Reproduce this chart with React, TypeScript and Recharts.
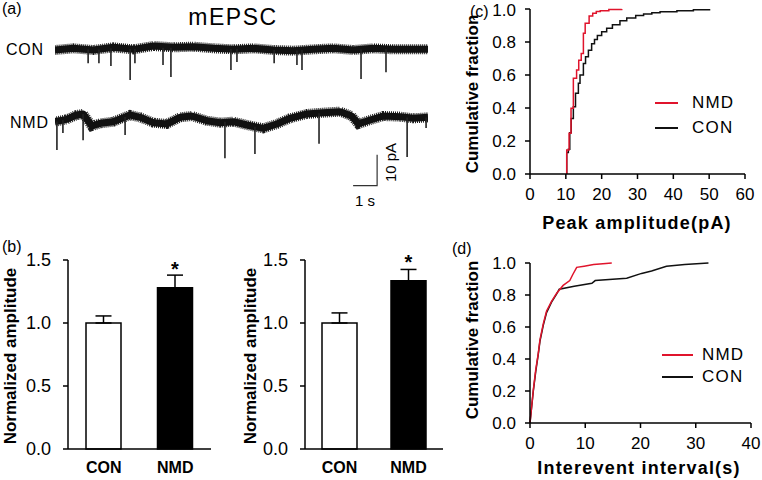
import React from 'react'
import {
    LineChart,
    Line,
    XAxis,
    YAxis,
    BarChart,
    Bar,
    Cell,
    ErrorBar,
    LabelList,
    Legend
} from 'recharts'

const FONT = '"Liberation Sans", Arial, Helvetica, sans-serif'
const RED = '#e0142c'
const INK = '#111'

// (a) example traces: baseline wander (s, pA) and individual events (s, peak pA)
const conBaseT = [0, 0.77, 1.6, 2.43, 3.27, 4.1, 4.93, 5.77, 6.6, 7.43, 8.27, 9.1, 9.93, 10.77, 11.6, 12.43, 13.27, 14.1, 15.54]
const conBaseV = [-0.16, 0.38, -0.16, 0.7, 0.05, 1.13, 0.7, 0.92, 0.38, 0.05, 0.38, -0.16, -0.38, 0.05, 0.38, -0.16, 0.38, 0.05, 0.05]
const conEventT = [1.38, 1.83, 2.33, 3.13, 3.33, 4.5, 4.83, 7.33, 7.58, 9.13, 10.08, 10.29, 12.75, 13.79]
const conEventFrom = [0, 0, 0.4, 0.2, 0.2, 0.6, 0.6, 0.2, 0.2, -0.2, -0.3, -0.2, 0, 0.2]
const conEventPeak = [-4.4, -4.4, -5.3, -9.8, -4.4, -5.0, -8.9, -6.6, -4.0, -4.4, -5.0, -6.6, -9.5, -7.3]

const nmdBaseT = [0, 0.49, 0.9, 1.18, 1.53, 1.88, 2.43, 3.13, 3.54, 4.1, 4.65, 5.21, 5.7, 6.32, 6.88, 7.43, 7.99, 8.68, 9.24, 9.79, 10.49, 11.18, 11.88, 12.36, 12.64, 13.13, 13.68, 14.38, 14.93, 15.54]
const nmdBaseV = [-0.54, 0.22, 1.61, 1.94, -1.94, -1.08, -0.54, 1.61, 0.86, -0.86, -1.29, 0.86, 1.29, -0.22, -0.86, -0.54, -1.61, -2.69, -1.29, 0.54, 1.94, 2.37, 2.69, 1.29, -1.29, 0, 1.29, 1.08, 0.54, 0.86]
const nmdEventT = [0.08, 0.33, 1.17, 2.92, 7.08, 8.33, 11.0, 14.67, 15.46]
const nmdEventFrom = [-0.5, 0, 1.9, 1, -0.6, -2.2, 2.2, 0.8, 0.8]
const nmdEventPeak = [-9.7, -4.2, -6.5, -4.8, -12.3, -11.0, -7.7, -11.9, -2.6]

// scale bar: 1 s, 10 pA
const scaleT = [12.42, 13.42, 13.42]
const scaleV = [-21.2, -21.2, -11.2]

// (b) normalized amplitude
const groups = ['CON', 'NMD']
const leftMean = [1.0, 1.28]
const leftSem = [0.056, 0.1]
const rightMean = [1.0, 1.335]
const rightSem = [0.08, 0.09]
const sigMarks = ['', '*']

// (c) cumulative peak amplitude (pA)
const nmdAmpX = [10.25, 10.25, 10.9, 11.45, 12.1, 13.0, 13.6, 14.3, 14.9, 15.4, 16.5, 17.5, 18.5, 19.6, 22.0, 25.6]
const nmdAmpY = [0, 0.145, 0.247, 0.398, 0.58, 0.63, 0.69, 0.73, 0.853, 0.913, 0.958, 0.975, 0.985, 0.99, 0.997, 1.0]
const conAmpX = [10.25, 10.25, 10.7, 11.1, 11.5, 12.1, 12.7, 13.5, 13.96, 14.9, 15.5, 16.3, 17.2, 18.0, 18.8, 20.0, 21.4, 23.0, 25.1, 27.0, 29.5, 31.7, 34.0, 36.3, 41.0, 45.6, 50.1]
const conAmpY = [0, 0.13, 0.15, 0.25, 0.337, 0.408, 0.489, 0.55, 0.6, 0.67, 0.71, 0.75, 0.79, 0.815, 0.84, 0.862, 0.883, 0.905, 0.929, 0.945, 0.96, 0.97, 0.978, 0.984, 0.99, 0.996, 1.0]

// (d) cumulative interevent interval (s)
const nmdIntX = [0, 0.6, 1.03, 1.5, 1.8, 2.4, 3.0, 3.9, 4.8, 6.0, 7.2, 7.7, 8.45, 9.8, 11.5, 13.2, 14.8]
const nmdIntY = [0, 0.206, 0.33, 0.435, 0.52, 0.62, 0.7, 0.76, 0.81, 0.86, 0.89, 0.925, 0.973, 0.98, 0.99, 0.995, 1.0]
const conIntX = [0, 0.6, 1.03, 1.5, 1.8, 2.4, 3.0, 3.9, 4.8, 5.3, 8.0, 11.2, 11.8, 17.5, 20.2, 22.0, 24.7, 28.0, 32.3]
const conIntY = [0, 0.2, 0.32, 0.43, 0.51, 0.61, 0.69, 0.755, 0.805, 0.836, 0.855, 0.873, 0.89, 0.905, 0.935, 0.95, 0.98, 0.99, 1.0]

const pairs = (xs: number[], ys: number[]) => xs.map((x, i) => ({ x, y: ys[i] }))
const traceBase = (ts: number[], vs: number[]) => ts.map((t, i) => ({ t, v: vs[i] }))
const traceEvents = (ts: number[], from: number[], peak: number[]) =>
    ts.flatMap((t, i) => [{ t, v: from[i] }, { t, v: peak[i] }, { t, v: null }])

const axisStroke = { stroke: '#000', strokeWidth: 1.5 }

const VLabel = ({ x, y, text }: { x: number; y: number; text: string }) => (
    <text
        x={x}
        y={y}
        transform={`rotate(-90 ${x} ${y})`}
        textAnchor="middle"
        fontFamily={FONT}
        fontWeight="bold"
        fontSize={17}
        fill="#000"
    >
        {text}
    </text>
)

const HLabel = ({ x, y, text }: { x: number; y: number; text: string }) => (
    <text x={x} y={y} textAnchor="middle" fontFamily={FONT} fontWeight="bold" fontSize={18} letterSpacing={1.2} fill="#000">
        {text}
    </text>
)

const CdfLegend = ({ payload, lineW, gap, rowH }: any) => {
    const items = [...(payload || [])].reverse()
    return (
        <div>
            {items.map((p: any) => (
                <div key={p.value} style={{ display: 'flex', alignItems: 'center', height: rowH }}>
                    <span style={{ width: lineW, borderTop: `2px solid ${p.color}`, marginRight: gap }} />
                    <span style={{ fontFamily: FONT, fontSize: 17, letterSpacing: 1.2, color: '#000' }}>{p.value}</span>
                </div>
            ))}
        </div>
    )
}

const Star = (props: any) => {
    const { x, y, width, value } = props
    if (!value) return null
    return (
        <text x={Number(x) + Number(width) / 2} y={Number(y) - 12} textAnchor="middle" fontFamily={FONT} fontWeight="bold" fontSize={20} fill="#000">
            {value}
        </text>
    )
}

function Trace({ base, events, domain, height, scale }: any) {
    return (
        <LineChart width={373} height={height} margin={{ top: 0, right: 0, bottom: 0, left: 0 }}>
            <XAxis dataKey="t" type="number" domain={[0, 15.54]} hide allowDataOverflow />
            <YAxis type="number" domain={domain} hide allowDataOverflow />
            {/* noisy recording band: dashed wide stroke gives the ragged edge, solid core underneath */}
            <Line data={base} dataKey="v" stroke="#1c1c1c" strokeWidth={10} strokeDasharray="1 1" dot={false} isAnimationActive={false} />
            <Line data={base} dataKey="v" stroke="#111" strokeWidth={7} strokeLinejoin="round" dot={false} isAnimationActive={false} />
            <Line data={events} dataKey="v" stroke="#222" strokeWidth={1.6} dot={false} isAnimationActive={false} />
            {scale && (
                <Line data={scale} dataKey="v" stroke="#333" strokeWidth={1.2} dot={false} isAnimationActive={false} />
            )}
        </LineChart>
    )
}

function AmpBars({ mean, sem, box }: any) {
    const data = groups.map((g, i) => ({ name: g, mean: mean[i], err: [0, sem[i]], sig: sigMarks[i] }))
    return (
        <BarChart width={box.w} height={240} data={data} margin={{ top: 20, right: box.right, bottom: 0, left: 0 }}>
            <XAxis
                dataKey="name"
                height={31}
                tickLine={false}
                tickSize={0}
                tickMargin={13}
                axisLine={axisStroke}
                tick={{ fill: '#000', fontSize: 16, fontWeight: 'bold', fontFamily: FONT }}
            />
            <YAxis
                width={box.axisW}
                domain={[0, 1.5]}
                ticks={[0, 0.5, 1, 1.5]}
                tickFormatter={(v: number) => v.toFixed(1)}
                tickSize={5}
                tickMargin={12}
                axisLine={axisStroke}
                tickLine={axisStroke}
                tick={{ fill: '#000', fontSize: 18, fontFamily: FONT }}
                label={() => <VLabel x={15.5} y={116} text="Normalized amplitude" />}
            />
            <Bar dataKey="mean" barSize={35} stroke="#000" strokeWidth={1.5} isAnimationActive={false}>
                {data.map((d, i) => (
                    <Cell key={d.name} fill={i === 0 ? '#fff' : '#000'} />
                ))}
                <ErrorBar dataKey="err" width={8} strokeWidth={1.5} stroke="#000" direction="y" />
                <LabelList dataKey="sig" content={Star} />
            </Bar>
        </BarChart>
    )
}

function Cdf({ nmd, con, xMax, xTicks, margin, xAxisH, xLabel, yLabelY, legend }: any) {
    return (
        <LineChart width={302} height={240} margin={margin}>
            <XAxis
                dataKey="x"
                type="number"
                domain={[0, xMax]}
                ticks={xTicks}
                height={xAxisH}
                tickSize={5}
                tickMargin={9}
                axisLine={axisStroke}
                tickLine={axisStroke}
                tick={{ fill: '#000', fontSize: 17, fontFamily: FONT }}
                label={() => <HLabel x={xLabel.x} y={xLabel.y} text={xLabel.text} />}
            />
            <YAxis
                dataKey="y"
                type="number"
                width={70}
                domain={[0, 1]}
                ticks={[0, 0.2, 0.4, 0.6, 0.8, 1]}
                tickFormatter={(v: number) => v.toFixed(1)}
                tickSize={5}
                tickMargin={9}
                axisLine={axisStroke}
                tickLine={axisStroke}
                tick={{ fill: '#000', fontSize: 17, fontFamily: FONT }}
                label={() => <VLabel x={18} y={yLabelY} text="Cumulative fraction" />}
            />
            <Line data={con} dataKey="y" name="CON" type={legend.step ? 'stepAfter' : 'linear'} stroke={INK} strokeWidth={1.5} dot={false} isAnimationActive={false} />
            <Line data={nmd} dataKey="y" name="NMD" type={legend.step ? 'stepAfter' : 'linear'} stroke={RED} strokeWidth={1.5} dot={false} isAnimationActive={false} />
            <Legend
                layout="vertical"
                align="center"
                verticalAlign="middle"
                wrapperStyle={{ left: legend.left, top: legend.top, width: 100 }}
                content={(p: any) => <CdfLegend payload={p.payload} lineW={legend.lineW} gap={legend.gap} rowH={legend.rowH} />}
            />
        </LineChart>
    )
}

const txt = { fontFamily: FONT, fill: '#000' }

export default function App() {
    return (
        <div style={{ position: 'absolute', left: 0, top: 0, width: 762, height: 480, background: '#fff', overflow: 'hidden' }}>
            <svg width={762} height={480} style={{ position: 'absolute', left: 0, top: 0 }}>
                <text x={2} y={14} fontSize={16} {...txt}>(a)</text>
                <text x={2} y={252} fontSize={16} {...txt}>(b)</text>
                <text x={470} y={17} fontSize={16} {...txt}>(c)</text>
                <text x={452} y={254} fontSize={16} {...txt}>(d)</text>
                <text x={233} y={25} fontSize={23} letterSpacing={1.5} textAnchor="middle" {...txt}>mEPSC</text>
                <text x={6} y={54.5} fontSize={16} letterSpacing={0.8} {...txt}>CON</text>
                <text x={10} y={127.5} fontSize={16} letterSpacing={0.8} {...txt}>NMD</text>
                <text x={355} y={205.5} fontSize={15} {...txt}>1 s</text>
                <text x={396} y={162.5} fontSize={15} textAnchor="middle" transform="rotate(-90 396 162.5)" {...txt}>10 pA</text>
            </svg>

            <div style={{ position: 'absolute', left: 55, top: 30 }}>
                <Trace
                    base={traceBase(conBaseT, conBaseV)}
                    events={traceEvents(conEventT, conEventFrom, conEventPeak)}
                    domain={[-11.45, 6.29]}
                    height={55}
                />
            </div>
            <div style={{ position: 'absolute', left: 55, top: 100 }}>
                <Trace
                    base={traceBase(nmdBaseT, nmdBaseV)}
                    events={traceEvents(nmdEventT, nmdEventFrom, nmdEventPeak)}
                    scale={traceBase(scaleT, scaleV)}
                    domain={[-29.03, 6.45]}
                    height={110}
                />
            </div>

            <div style={{ position: 'absolute', left: 0, top: 240 }}>
                <AmpBars mean={leftMean} sem={leftSem} box={{ w: 240, right: 29, axisW: 68 }} />
            </div>
            <div style={{ position: 'absolute', left: 240, top: 240 }}>
                <AmpBars mean={rightMean} sem={rightSem} box={{ w: 220, right: 17, axisW: 65 }} />
            </div>

            <div style={{ position: 'absolute', left: 460, top: 0 }}>
                <Cdf
                    nmd={pairs(nmdAmpX, nmdAmpY)}
                    con={pairs(conAmpX, conAmpY)}
                    xMax={60}
                    xTicks={[0, 10, 20, 30, 40, 50, 60]}
                    margin={{ top: 9, right: 17, bottom: 0, left: 0 }}
                    xAxisH={66}
                    xLabel={{ x: 177, y: 229, text: 'Peak amplitude(pA)' }}
                    yLabelY={94}
                    legend={{ left: 195, top: 90.5, lineW: 23, gap: 14, rowH: 25, step: true }}
                />
            </div>
            <div style={{ position: 'absolute', left: 460, top: 240 }}>
                <Cdf
                    nmd={pairs(nmdIntX, nmdIntY)}
                    con={pairs(conIntX, conIntY)}
                    xMax={40}
                    xTicks={[0, 10, 20, 30, 40]}
                    margin={{ top: 23, right: 11, bottom: 0, left: 0 }}
                    xAxisH={57}
                    xLabel={{ x: 179, y: 234, text: 'Interevent interval(s)' }}
                    yLabelY={100}
                    legend={{ left: 202, top: 104, lineW: 31, gap: 9, rowH: 22, step: false }}
                />
            </div>
        </div>
    )
}
